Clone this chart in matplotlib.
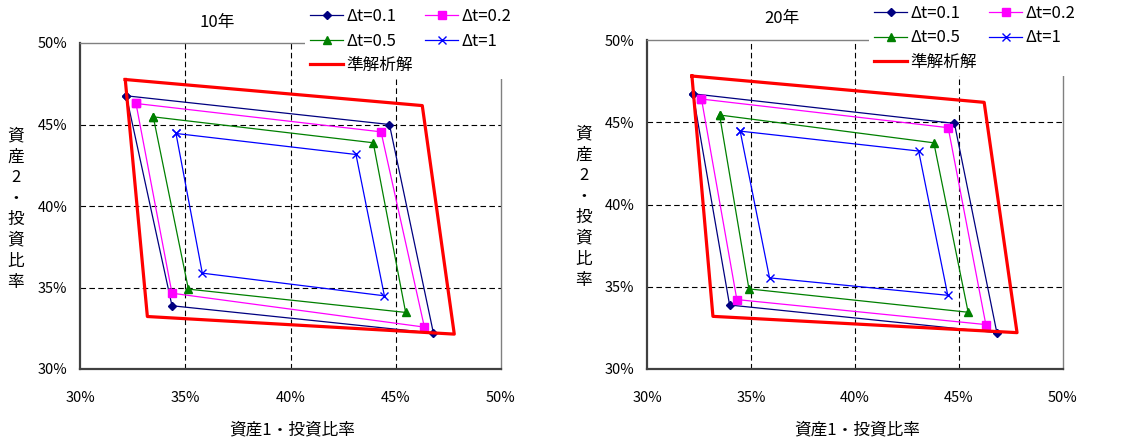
import matplotlib
matplotlib.use("Agg")
import matplotlib.pyplot as plt
from matplotlib.ticker import PercentFormatter, MultipleLocator, FixedLocator

plt.rcParams["font.family"] = ["Noto Sans CJK JP", "DejaVu Sans"]

# corner points (asset 1 %, asset 2 %) for each step size, 10-year horizon
x10_dt01 = [32.20, 44.70, 46.79, 34.37]
y10_dt01 = [46.76, 45.00, 32.20, 33.88]
x10_dt02 = [32.66, 44.30, 46.36, 34.37]
y10_dt02 = [46.29, 44.55, 32.57, 34.65]
x10_dt05 = [33.48, 43.93, 45.47, 35.15]
y10_dt05 = [45.47, 43.88, 33.47, 34.90]
x10_dt1 = [34.56, 43.11, 44.46, 35.81]
y10_dt1 = [44.45, 43.16, 34.49, 35.88]
x10_exact = [32.15, 46.26, 47.78, 33.20]
y10_exact = [47.76, 46.16, 32.14, 33.22]

# 20-year horizon
x20_dt01 = [32.21, 44.78, 46.82, 33.97]
y20_dt01 = [46.73, 44.93, 32.21, 33.89]
x20_dt02 = [32.62, 44.48, 46.29, 34.32]
y20_dt02 = [46.41, 44.67, 32.70, 34.22]
x20_dt05 = [33.49, 43.79, 45.44, 34.90]
y20_dt05 = [45.44, 43.75, 33.45, 34.87]
x20_dt1 = [34.48, 43.06, 44.46, 35.89]
y20_dt1 = [44.46, 43.25, 34.48, 35.54]
x20_exact = [32.16, 46.21, 47.79, 33.17]
y20_exact = [47.81, 46.21, 32.21, 33.20]

labels = ["Δt=0.1", "Δt=0.2", "Δt=0.5", "Δt=1", "準解析解"]
styles = [
    dict(color="#000080", marker="D", ms=4.5, lw=0.9),
    dict(color="#ff00ff", marker="s", ms=5.5, lw=0.9),
    dict(color="#008000", marker="^", ms=5.5, lw=0.9),
    dict(color="#0000ff", marker="x", ms=6, mew=1.0, lw=0.9),
    dict(color="#ff0000", marker=None, lw=2.3),
]

XLABEL = "資産1・投資比率"
YLABEL = "資産2・投資比率"


def closed(v):
    return list(v) + [v[0]]


def draw_panel(fig, rect, series, title, title_xy, ylab_xy, xlab_xy, leg_xy):
    ax = fig.add_axes(rect)
    handles = []
    for (xs, ys), lab, st in zip(series, labels, styles):
        h, = ax.plot(closed(xs), closed(ys), label=lab, **st)
        handles.append(h)

    ax.set_xlim(30, 50)
    ax.set_ylim(30, 50)
    for axis in (ax.xaxis, ax.yaxis):
        axis.set_major_locator(MultipleLocator(5))
        axis.set_major_formatter(PercentFormatter(decimals=0))
        axis.set_minor_locator(FixedLocator([35, 40, 45]))
        axis.remove_overlapping_locs = False
    ax.tick_params(which="both", length=0)
    ax.tick_params(axis="x", pad=16, labelsize=10.5)
    ax.tick_params(axis="y", pad=9, labelsize=10.5)
    # dashed grid only on the inner lines
    ax.grid(which="minor", color="black", ls=(0, (5, 3)), lw=0.8)

    for side in ("left", "bottom"):
        ax.spines[side].set_color("#404040")
        ax.spines[side].set_linewidth(1.6)
    for side in ("top", "right"):
        ax.spines[side].set_color("#808080")
        ax.spines[side].set_linewidth(1.0)

    # legend order: column-major, so 0.1/0.5/exact then 0.2/1
    order = [0, 2, 4, 1, 3]
    leg = ax.legend([handles[i] for i in order], [labels[i] for i in order],
                    ncol=2, loc="upper left", bbox_to_anchor=leg_xy,
                    bbox_transform=fig.transFigure, fontsize=12,
                    frameon=True, fancybox=False, framealpha=1,
                    facecolor="white", edgecolor="none", borderpad=0.3,
                    handlelength=2.0, handletextpad=0.2, columnspacing=0.7,
                    labelspacing=0.45, borderaxespad=0)
    leg.set_zorder(10)

    fig.text(*title_xy, title, ha="center", va="center", fontsize=12)
    fig.text(*ylab_xy, "\n".join(YLABEL), ha="center", va="center",
             fontsize=12, linespacing=1.3)
    fig.text(*xlab_xy, XLABEL, ha="center", va="center", fontsize=12)
    return ax


W, H = 1129, 446
fig = plt.figure(figsize=(W / 100, H / 100), dpi=100)

draw_panel(
    fig, [80 / W, 1 - 369 / H, 421 / W, 326 / H],
    [(x10_dt01, y10_dt01), (x10_dt02, y10_dt02), (x10_dt05, y10_dt05),
     (x10_dt1, y10_dt1), (x10_exact, y10_exact)],
    "10年", (217 / W, 1 - 22 / H), (16 / W, 1 - 209 / H),
    (292 / W, 1 - 430 / H), (305 / W, 1 - 3 / H),
)
draw_panel(
    fig, [647 / W, 1 - 369 / H, 416 / W, 329 / H],
    [(x20_dt01, y20_dt01), (x20_dt02, y20_dt02), (x20_dt05, y20_dt05),
     (x20_dt1, y20_dt1), (x20_exact, y20_exact)],
    "20年", (782 / W, 1 - 19 / H), (584 / W, 1 - 207 / H),
    (857 / W, 1 - 430 / H), (869 / W, 1.0),
)

fig.savefig("out.png", dpi=100)
